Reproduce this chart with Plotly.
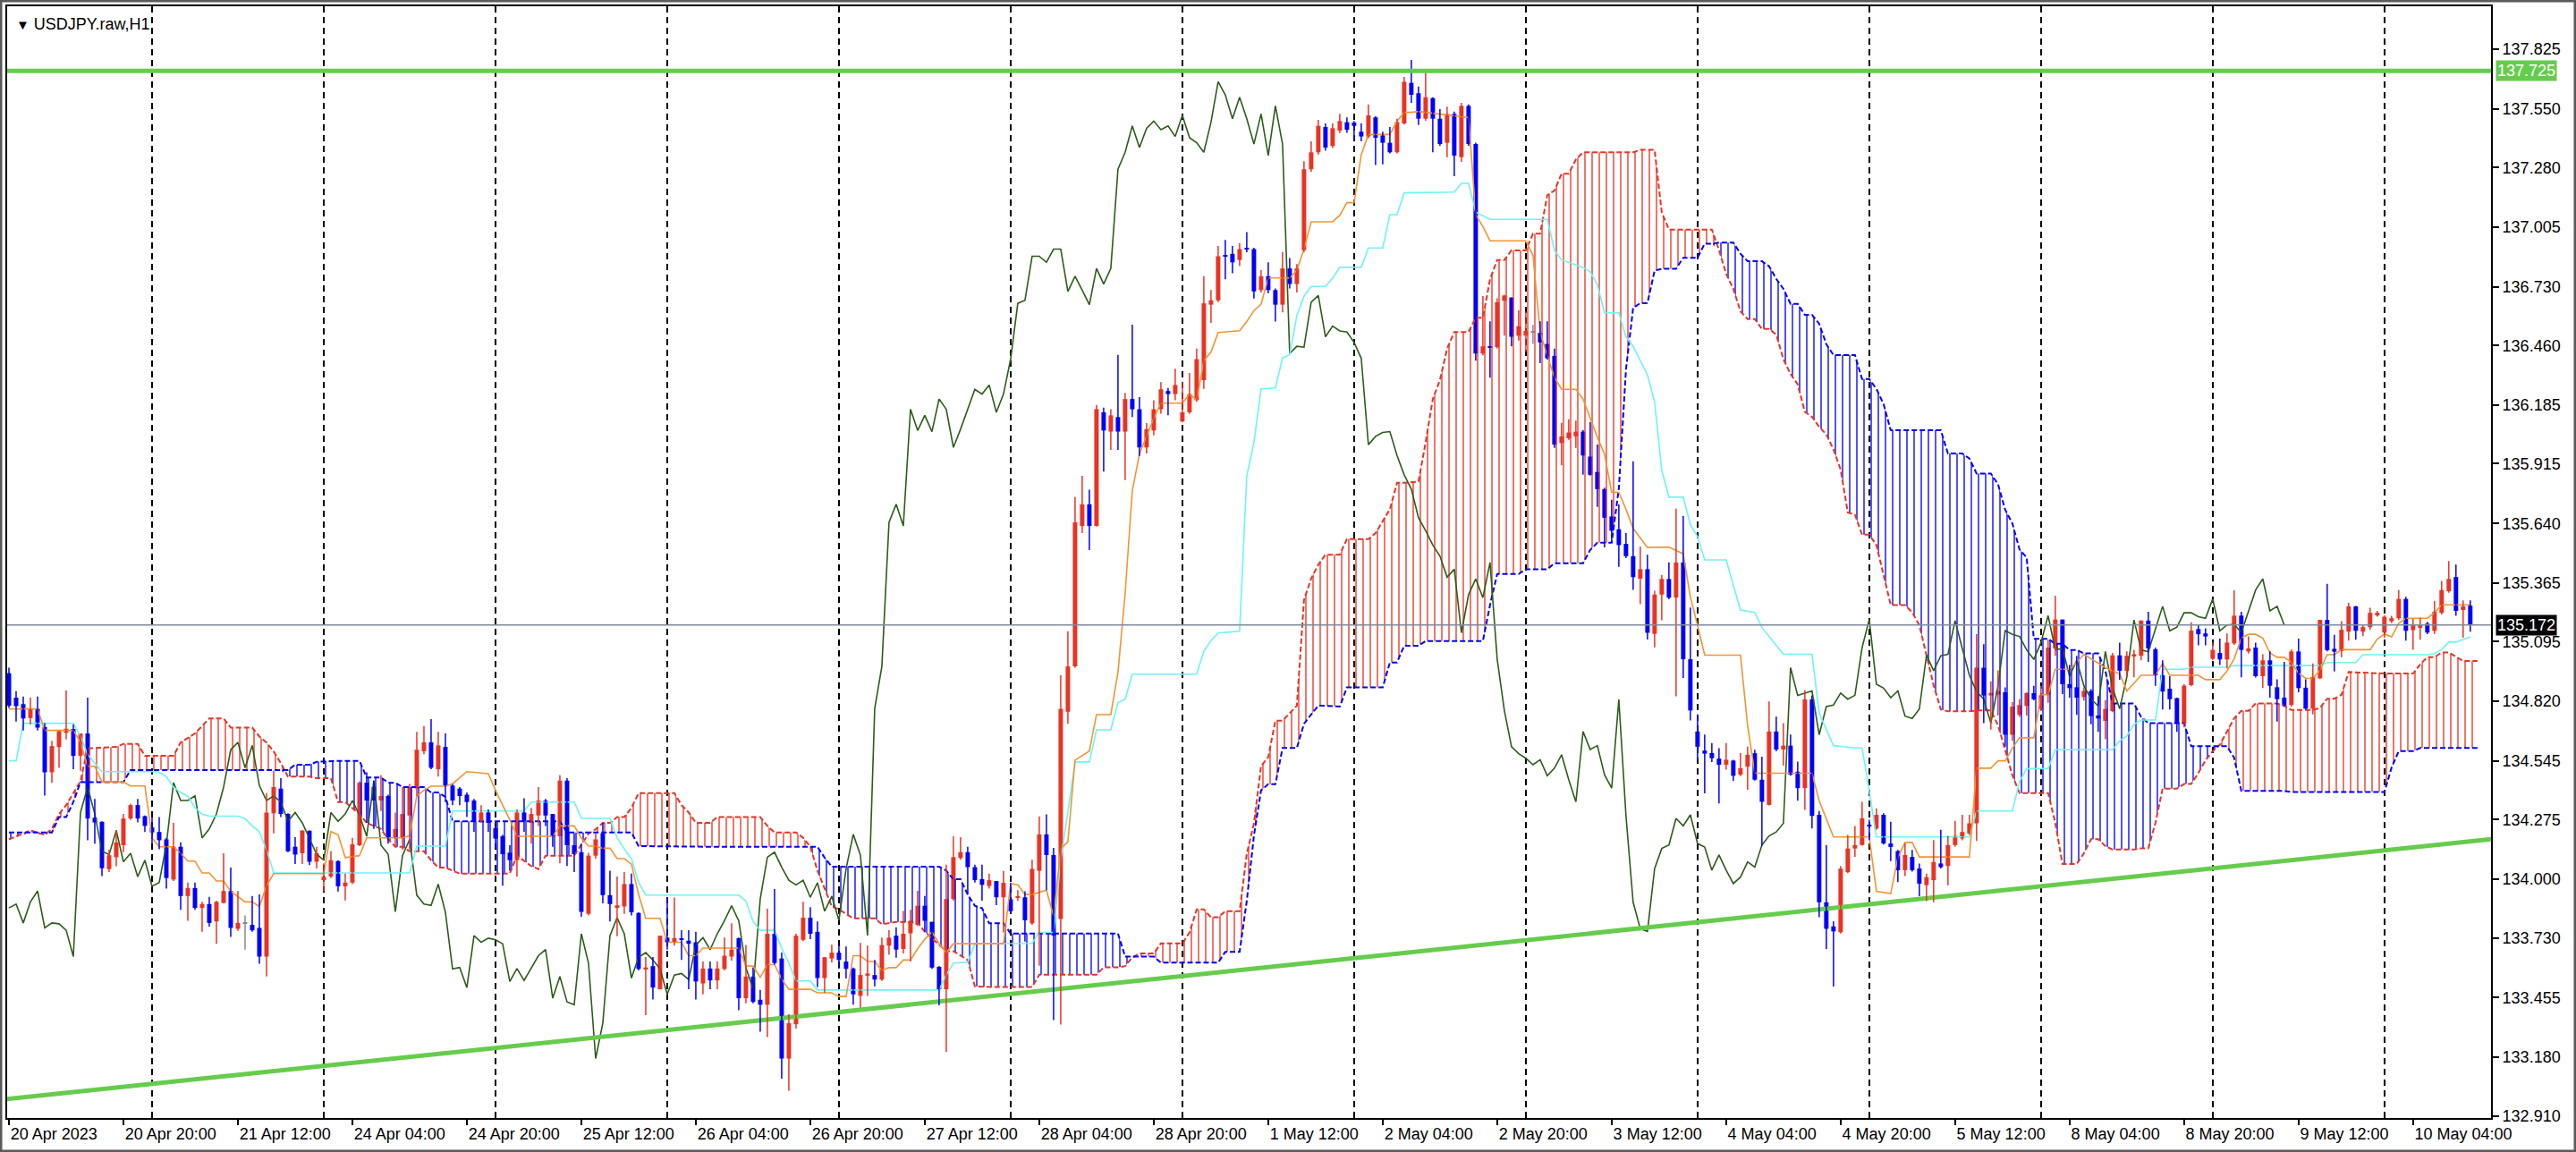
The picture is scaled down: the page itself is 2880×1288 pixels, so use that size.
import numpy as np
import plotly.graph_objects as go

# USDJPY.raw H1 candles, bar index 0 = 20 Apr 2023 04:00
opens = [
    134.950, 134.837, 134.807, 134.743, 134.785, 134.702, 134.493, 134.609, 134.675, 134.693,
    134.569, 134.672, 134.284, 134.265, 134.047, 134.102, 134.157, 134.280, 134.342, 134.291,
    134.239, 134.218, 134.184, 133.999, 134.150, 133.923, 133.960, 133.868, 133.886, 133.806,
    133.891, 133.946, 133.772, 133.795, 133.790, 133.776, 133.644, 134.304, 134.418, 134.301,
    134.150, 134.120, 134.224, 134.081, 133.996, 134.013, 134.084, 133.968, 133.985, 134.157,
    134.445, 134.425, 134.363, 134.384, 134.191, 134.191, 134.294, 134.418, 134.590, 134.631,
    134.507, 134.610, 134.432, 134.418, 134.390, 134.363, 134.271, 134.308, 134.235, 134.198,
    134.123, 134.088, 134.308, 134.260, 134.294, 134.363, 134.301, 134.198, 134.455, 134.157,
    134.125, 133.841, 134.109, 134.212, 133.927, 133.872, 133.875, 133.978, 133.845, 133.587,
    133.600, 133.493, 133.731, 133.710, 133.724, 133.717, 133.710, 133.520, 133.589, 133.534,
    133.587, 133.644, 133.729, 133.452, 133.552, 133.445, 133.422, 133.749, 133.635, 133.174,
    133.332, 133.721, 133.823, 133.758, 133.545, 133.635, 133.662, 133.621, 133.589, 133.463,
    133.556, 133.559, 133.538, 133.694, 133.740, 133.679, 133.751, 133.790, 133.878, 133.804,
    133.597, 133.493, 133.909, 134.098, 134.125, 134.056, 134.001, 133.969, 133.992, 133.917,
    133.908, 133.917, 133.917, 133.797, 134.039, 134.207, 134.112, 133.817, 134.772, 134.981,
    135.628, 135.728, 135.628, 136.152, 136.063, 136.130, 136.063, 136.213, 136.166, 135.990,
    136.068, 136.166, 136.250, 136.236, 136.110, 136.152, 136.208, 136.300, 136.648, 136.668,
    136.877, 136.882, 136.854, 136.910, 136.904, 136.715, 136.779, 136.715, 136.648, 136.815,
    136.743, 136.899, 137.272, 137.350, 137.467, 137.379, 137.450, 137.489, 137.487, 137.445,
    137.423, 137.511, 137.428, 137.394, 137.350, 137.483, 137.670, 137.622, 137.505, 137.600,
    137.505, 137.394, 137.527, 137.328, 137.564, 137.388, 136.423, 136.456, 136.452, 136.666,
    136.681, 136.505, 136.505, 136.522, 136.518, 136.467, 136.412, 136.010, 136.032, 136.041,
    136.063, 135.948, 135.877, 135.798, 135.672, 135.613, 135.546, 135.489, 135.385, 135.429,
    135.131, 135.312, 135.384, 135.298, 135.460, 135.014, 134.681, 134.593, 134.582, 134.556,
    134.528, 134.547, 134.482, 134.519, 134.581, 134.459, 134.343, 134.681, 134.598, 134.616,
    134.496, 134.420, 134.829, 134.297, 133.894, 133.783, 133.756, 134.033, 134.142, 134.158,
    134.251, 134.234, 134.297, 134.165, 134.130, 134.042, 134.103, 134.050, 133.973, 133.996,
    134.073, 134.061, 134.158, 134.188, 134.211, 134.258, 134.975, 134.847, 134.851, 134.862,
    134.666, 134.758, 134.799, 134.858, 134.785, 134.851, 135.064, 135.197, 134.899, 134.885,
    134.840, 134.868, 134.755, 134.730, 134.775, 135.032, 134.961, 135.030, 135.030, 135.192,
    135.060, 134.940, 134.878, 134.835, 134.716, 134.895, 135.153, 135.133, 135.016, 135.043,
    135.013, 135.087, 135.215, 135.050, 135.068, 134.936, 135.009, 134.885, 134.837, 134.803,
    135.050, 134.883, 134.786, 134.926, 135.195, 135.062, 135.052, 135.141, 135.258, 135.141,
    135.162, 135.216, 135.137, 135.189, 135.203, 135.292, 135.148, 135.159, 135.178, 135.145,
    135.228, 135.327, 135.393, 135.241, 135.261,
]
highs = [
    134.975, 134.867, 134.842, 134.837, 134.842, 134.720, 134.638, 134.686, 134.870, 134.713,
    134.672, 134.837, 134.370, 134.267, 134.136, 134.225, 134.301, 134.349, 134.370, 134.294,
    134.287, 134.287, 134.191, 134.260, 134.170, 133.985, 133.985, 133.896, 133.919, 133.902,
    134.120, 134.054, 133.946, 133.834, 133.923, 133.930, 134.397, 134.500, 134.466, 134.304,
    134.194, 134.225, 134.225, 134.150, 134.074, 134.129, 134.088, 134.026, 134.191, 134.452,
    134.493, 134.452, 134.480, 134.390, 134.308, 134.425, 134.439, 134.679, 134.706, 134.738,
    134.679, 134.672, 134.439, 134.425, 134.400, 134.370, 134.342, 134.322, 134.246, 134.205,
    134.157, 134.322, 134.373, 134.329, 134.425, 134.370, 134.301, 134.480, 134.466, 134.212,
    134.164, 134.122, 134.212, 134.260, 134.040, 134.013, 134.033, 134.026, 133.848, 133.642,
    133.642, 133.740, 133.916, 133.916, 133.765, 133.765, 133.758, 133.621, 133.621, 133.621,
    133.731, 133.797, 133.731, 133.697, 133.593, 133.490, 133.864, 133.955, 133.662, 133.378,
    133.749, 133.896, 133.872, 133.806, 133.641, 133.699, 133.697, 133.690, 133.593, 133.707,
    133.694, 133.628, 133.731, 133.765, 133.779, 133.854, 133.859, 133.947, 133.923, 133.804,
    133.600, 134.067, 134.198, 134.194, 134.150, 134.067, 134.067, 134.026, 133.992, 134.039,
    133.984, 133.950, 133.945, 134.090, 134.290, 134.299, 134.145, 134.940, 135.143, 135.762,
    135.859, 135.795, 136.186, 136.174, 136.166, 136.417, 136.241, 136.556, 136.222, 136.102,
    136.208, 136.291, 136.264, 136.353, 136.291, 136.333, 136.445, 136.779, 136.715, 136.918,
    136.946, 136.918, 136.932, 136.982, 136.910, 136.807, 136.843, 136.723, 136.891, 136.863,
    136.835, 137.309, 137.401, 137.500, 137.483, 137.483, 137.527, 137.511, 137.494, 137.483,
    137.571, 137.516, 137.445, 137.467, 137.505, 137.697, 137.776, 137.653, 137.726, 137.604,
    137.549, 137.560, 137.538, 137.578, 137.571, 137.394, 136.688, 136.571, 136.677, 136.694,
    136.681, 136.622, 136.615, 136.555, 136.571, 136.571, 136.445, 136.103, 136.120, 136.114,
    136.070, 136.107, 136.003, 135.805, 135.749, 135.727, 135.595, 135.926, 135.533, 135.496,
    135.330, 135.403, 135.460, 135.708, 135.675, 135.252, 134.760, 134.667, 134.628, 134.604,
    134.628, 134.551, 134.582, 134.611, 134.597, 134.565, 134.820, 134.750, 134.720, 134.667,
    134.542, 134.871, 134.847, 134.315, 134.158, 133.807, 134.061, 134.204, 134.246, 134.357,
    134.274, 134.327, 134.304, 134.265, 134.135, 134.165, 134.135, 134.073, 134.026, 134.181,
    134.228, 134.200, 134.269, 134.297, 134.297, 135.130, 135.083, 134.912, 134.963, 134.885,
    134.817, 134.830, 134.862, 134.892, 134.892, 135.105, 135.307, 135.197, 134.988, 135.030,
    134.885, 134.876, 134.844, 134.826, 135.043, 135.091, 135.050, 135.057, 135.194, 135.233,
    135.068, 135.009, 134.936, 134.837, 134.899, 135.184, 135.174, 135.156, 135.091, 135.109,
    135.133, 135.332, 135.233, 135.119, 135.091, 135.037, 135.050, 134.922, 135.002, 135.060,
    135.109, 134.922, 134.995, 135.197, 135.362, 135.127, 135.189, 135.274, 135.260, 135.172,
    135.251, 135.237, 135.216, 135.214, 135.333, 135.302, 135.200, 135.205, 135.186, 135.283,
    135.375, 135.467, 135.450, 135.285, 135.285,
]
lows = [
    134.790, 134.727, 134.686, 134.713, 134.686, 134.386, 134.445, 134.514, 134.644, 134.507,
    134.500, 134.180, 134.164, 134.015, 134.033, 134.060, 134.125, 134.273, 134.262, 134.218,
    134.164, 134.139, 133.957, 133.992, 133.859, 133.809, 133.859, 133.758, 133.782, 133.703,
    133.889, 133.735, 133.762, 133.676, 133.758, 133.611, 133.552, 134.212, 134.287, 134.125,
    134.070, 134.070, 134.065, 134.050, 133.944, 134.006, 133.944, 133.903, 133.978, 134.153,
    134.260, 134.232, 134.315, 134.164, 134.150, 134.136, 134.136, 134.384, 134.576, 134.507,
    134.473, 134.356, 134.342, 134.342, 134.287, 134.219, 134.260, 134.219, 134.143, 133.971,
    134.040, 134.013, 134.219, 134.164, 134.246, 134.246, 134.150, 134.074, 134.061, 134.033,
    133.827, 133.834, 134.095, 133.889, 133.806, 133.738, 133.841, 133.834, 133.580, 133.374,
    133.446, 133.493, 133.676, 133.694, 133.628, 133.493, 133.446, 133.470, 133.493, 133.493,
    133.580, 133.625, 133.397, 133.429, 133.429, 133.298, 133.273, 133.607, 133.081, 133.026,
    133.312, 133.715, 133.724, 133.504, 133.477, 133.617, 133.587, 133.543, 133.422, 133.408,
    133.463, 133.507, 133.532, 133.652, 133.639, 133.658, 133.621, 133.786, 133.758, 133.587,
    133.419, 133.205, 133.902, 134.090, 133.930, 133.985, 133.902, 133.957, 133.881, 133.755,
    133.845, 133.900, 133.713, 133.790, 133.602, 133.950, 133.351, 133.331, 134.717, 134.975,
    135.595, 135.517, 135.625, 135.879, 135.979, 135.979, 135.840, 136.130, 135.951, 135.962,
    136.046, 136.146, 136.138, 136.208, 136.105, 136.145, 136.200, 136.260, 136.564, 136.660,
    136.765, 136.793, 136.826, 136.890, 136.676, 136.704, 136.700, 136.570, 136.612, 136.723,
    136.704, 136.890, 137.260, 137.340, 137.357, 137.370, 137.439, 137.440, 137.405, 137.401,
    137.415, 137.291, 137.295, 137.345, 137.345, 137.478, 137.578, 137.476, 137.495, 137.350,
    137.380, 137.328, 137.240, 137.306, 137.380, 136.390, 136.415, 136.312, 136.445, 136.505,
    136.456, 136.483, 136.430, 136.467, 136.379, 136.395, 135.988, 135.908, 136.025, 135.988,
    135.864, 135.860, 135.716, 135.529, 135.551, 135.440, 135.480, 135.334, 135.268, 135.105,
    135.069, 135.194, 135.290, 134.843, 134.928, 134.732, 134.551, 134.396, 134.540, 134.350,
    134.505, 134.454, 134.475, 134.413, 134.455, 134.154, 134.340, 134.590, 134.524, 134.478,
    134.362, 134.320, 134.234, 133.825, 133.679, 133.506, 133.750, 134.028, 134.103, 134.155,
    134.181, 134.228, 134.160, 134.084, 133.987, 134.015, 134.035, 133.922, 133.899, 133.894,
    134.050, 133.973, 134.150, 134.180, 134.205, 134.177, 134.720, 134.690, 134.755, 134.611,
    134.638, 134.748, 134.755, 134.825, 134.775, 134.813, 135.030, 134.854, 134.837, 134.758,
    134.824, 134.714, 134.679, 134.645, 134.770, 134.920, 134.931, 134.931, 135.009, 135.002,
    134.892, 134.782, 134.782, 134.679, 134.700, 134.890, 135.078, 135.078, 135.010, 134.988,
    134.972, 135.080, 134.931, 135.040, 134.930, 134.881, 134.837, 134.727, 134.795, 134.795,
    134.862, 134.783, 134.760, 134.923, 135.050, 134.958, 135.024, 135.100, 135.104, 135.120,
    135.150, 135.210, 135.113, 135.180, 135.195, 135.100, 135.058, 135.104, 135.130, 135.131,
    135.220, 135.320, 135.214, 135.113, 135.141,
]
closes = [
    134.800, 134.798, 134.741, 134.785, 134.699, 134.493, 134.614, 134.683, 134.694, 134.569,
    134.672, 134.280, 134.262, 134.051, 134.111, 134.170, 134.280, 134.342, 134.280, 134.246,
    134.216, 134.180, 134.006, 134.150, 133.923, 133.960, 133.868, 133.886, 133.799, 133.896,
    133.946, 133.776, 133.799, 133.795, 133.765, 133.644, 134.308, 134.425, 134.301, 134.129,
    134.114, 134.225, 134.081, 134.120, 134.012, 134.088, 133.968, 133.985, 134.161, 134.445,
    134.363, 134.363, 134.384, 134.191, 134.232, 134.301, 134.425, 134.597, 134.631, 134.514,
    134.617, 134.432, 134.363, 134.384, 134.356, 134.267, 134.308, 134.260, 134.188, 134.116,
    134.088, 134.308, 134.267, 134.301, 134.363, 134.294, 134.198, 134.455, 134.157, 134.116,
    133.850, 134.109, 134.184, 133.927, 133.886, 133.880, 133.978, 133.848, 133.587, 133.594,
    133.501, 133.740, 133.710, 133.729, 133.721, 133.703, 133.529, 133.589, 133.534, 133.589,
    133.648, 133.676, 133.452, 133.552, 133.435, 133.422, 133.749, 133.614, 133.174, 133.337,
    133.740, 133.823, 133.749, 133.545, 133.641, 133.662, 133.628, 133.587, 133.470, 133.559,
    133.566, 133.538, 133.697, 133.731, 133.676, 133.749, 133.809, 133.878, 133.809, 133.593,
    133.493, 133.909, 134.102, 134.125, 134.056, 133.996, 133.974, 133.996, 133.917, 133.984,
    133.853, 133.922, 133.811, 134.048, 134.207, 134.112, 133.741, 134.786, 134.981, 135.645,
    135.728, 135.628, 136.166, 136.068, 136.138, 136.063, 136.213, 136.166, 135.990, 136.074,
    136.166, 136.258, 136.236, 136.278, 136.152, 136.236, 136.397, 136.654, 136.668, 136.871,
    136.871, 136.843, 136.904, 136.904, 136.709, 136.779, 136.715, 136.648, 136.815, 136.743,
    136.815, 137.272, 137.350, 137.472, 137.372, 137.461, 137.494, 137.454, 137.472, 137.423,
    137.520, 137.417, 137.394, 137.350, 137.489, 137.675, 137.615, 137.505, 137.604, 137.505,
    137.388, 137.527, 137.335, 137.564, 137.388, 136.423, 136.456, 136.452, 136.659, 136.690,
    136.500, 136.549, 136.527, 136.522, 136.474, 136.401, 136.003, 136.041, 136.059, 136.063,
    135.953, 135.864, 135.798, 135.666, 135.606, 135.540, 135.489, 135.392, 135.429, 135.136,
    135.312, 135.384, 135.298, 135.460, 135.014, 134.778, 134.611, 134.579, 134.558, 134.528,
    134.551, 134.477, 134.512, 134.574, 134.459, 134.357, 134.681, 134.598, 134.616, 134.482,
    134.420, 134.829, 134.292, 133.894, 133.772, 133.760, 134.049, 134.142, 134.158, 134.281,
    134.246, 134.297, 134.165, 134.149, 134.042, 134.112, 134.042, 133.980, 134.010, 134.080,
    134.056, 134.158, 134.200, 134.218, 134.258, 134.975, 134.847, 134.859, 134.868, 134.666,
    134.796, 134.803, 134.858, 134.830, 134.848, 135.068, 135.197, 134.899, 134.881, 134.837,
    134.868, 134.752, 134.741, 134.785, 135.032, 134.961, 135.030, 135.037, 135.192, 135.064,
    134.940, 134.865, 134.830, 134.720, 134.892, 135.146, 135.129, 135.119, 135.057, 135.013,
    135.091, 135.215, 135.057, 135.064, 134.936, 135.009, 134.892, 134.830, 134.799, 135.050,
    134.881, 134.786, 134.932, 135.195, 135.056, 135.049, 135.150, 135.258, 135.145, 135.162,
    135.228, 135.228, 135.210, 135.203, 135.292, 135.145, 135.172, 135.175, 135.137, 135.233,
    135.333, 135.384, 135.237, 135.258, 135.172,
]

# Tenkan-sen (orange) read as (bar, value) vertices
tenkan_bars = [
    0, 4, 5, 9, 10, 11, 12, 13, 16, 17, 19, 20, 21, 23, 24, 25, 26, 27, 28, 29,
    30, 31, 32, 33, 34, 35, 36, 37, 44, 45, 46, 47, 49, 50, 55, 56, 57, 58, 59, 61,
    62, 64, 67, 68, 69, 70, 71, 76, 77, 79, 80, 81, 82, 83, 84, 85, 86, 87, 88, 89,
    91, 92, 94, 95, 96, 97, 102, 103, 104, 105, 106, 107, 108, 109, 112, 113, 115, 116, 117, 118,
    119, 120, 121, 122, 123, 124, 125, 126, 127, 128, 129, 130, 131, 132, 139, 140, 141, 142, 143, 145,
    146, 147, 148, 149, 151, 152, 154, 155, 156, 157, 158, 159, 160, 161, 164, 165, 166, 167, 168, 169,
    172, 173, 174, 175, 176, 179, 180, 181, 182, 185, 186, 187, 188, 189, 190, 193, 194, 195, 196, 197,
    204, 205, 206, 207, 212, 213, 214, 215, 216, 217, 219, 220, 221, 222, 223, 224, 225, 226, 227, 229,
    230, 232, 234, 235, 236, 237, 242, 243, 244, 252, 253, 255, 260, 261, 263, 264, 265, 266, 267, 274,
    275, 277, 278, 279, 280, 281, 283, 284, 285, 286, 288, 289, 290, 291, 293, 294, 295, 296, 297, 298,
    300, 301, 302, 306, 307, 309, 310, 311, 312, 313, 314, 315, 316, 317, 318, 319, 320, 321, 322, 323,
    324, 325, 326, 330, 331, 332, 333, 334, 335, 338, 339, 340, 344,
]
tenkan_vals = [
    134.785, 134.785, 134.686, 134.686, 134.631, 134.521, 134.521, 134.448, 134.448, 134.430,
    134.430, 134.191, 134.150, 134.150, 134.120, 134.084, 134.084, 134.029, 134.029, 133.992,
    133.992, 133.944, 133.920, 133.896, 133.896, 133.875, 133.970, 134.026, 134.026, 134.220,
    134.205, 134.100, 134.109, 134.191, 134.191, 134.200, 134.384, 134.410, 134.429, 134.429,
    134.440, 134.496, 134.487, 134.410, 134.342, 134.274, 134.198, 134.198, 134.246, 134.246,
    134.190, 134.153, 134.153, 134.143, 134.143, 134.095, 134.095, 134.070, 133.930, 133.820,
    133.820, 133.710, 133.710, 133.648, 133.648, 133.683, 133.683, 133.600, 133.600, 133.548,
    133.607, 133.607, 133.540, 133.493, 133.493, 133.477, 133.477, 133.460, 133.460, 133.648,
    133.648, 133.621, 133.621, 133.580, 133.593, 133.593, 133.628, 133.628, 133.680, 133.724,
    133.758, 133.703, 133.662, 133.703, 133.703, 133.980, 133.975, 133.930, 133.930, 133.950,
    133.830, 134.140, 134.173, 134.549, 134.591, 134.759, 134.759, 134.954, 135.316, 135.790,
    135.960, 136.040, 136.124, 136.194, 136.194, 136.236, 136.208, 136.389, 136.430, 136.520,
    136.528, 136.570, 136.620, 136.650, 136.771, 136.771, 136.807, 136.904, 137.030, 137.030,
    137.060, 137.118, 137.118, 137.339, 137.432, 137.432, 137.494, 137.534, 137.534, 137.538,
    137.510, 137.063, 137.008, 136.942, 136.942, 136.876, 136.522, 136.412, 136.313, 136.258,
    136.258, 136.213, 136.125, 136.037, 135.959, 135.783, 135.783, 135.705, 135.617, 135.529,
    135.530, 135.530, 135.500, 135.300, 135.171, 135.033, 135.033, 134.709, 134.489, 134.489,
    134.362, 134.195, 134.195, 133.945, 133.934, 134.100, 134.170, 134.170, 134.103, 134.103,
    134.512, 134.512, 134.546, 134.546, 134.604, 134.652, 134.652, 134.851, 134.851, 134.968,
    134.968, 135.000, 135.037, 135.016, 134.975, 134.961, 134.947, 134.868, 134.906, 134.940,
    134.940, 134.995, 134.940, 134.940, 134.920, 134.920, 134.960, 135.016, 135.112, 135.129,
    135.129, 135.112, 135.043, 135.023, 135.023, 135.000, 134.950, 134.926, 134.926, 134.964,
    135.035, 135.035, 135.058, 135.058, 135.107, 135.130, 135.117, 135.180, 135.203, 135.203,
    135.228, 135.265, 135.265,
]

# Kijun-sen (aqua)
kijun_bars = [
    0, 1, 2, 9, 10, 11, 12, 13, 20, 21, 22, 23, 24, 25, 26, 27, 28, 32, 33, 34,
    35, 36, 37, 56, 57, 61, 62, 72, 73, 79, 80, 84, 85, 86, 87, 88, 89, 102, 103, 104,
    105, 107, 108, 109, 110, 112, 113, 130, 131, 132, 134, 135, 143, 144, 146, 147, 148, 149, 151, 152,
    154, 155, 156, 157, 166, 167, 168, 169, 172, 173, 174, 175, 177, 178, 179, 180, 181, 182, 184, 185,
    186, 189, 190, 192, 193, 194, 195, 202, 203, 204, 205, 207, 215, 216, 217, 220, 221, 222, 223, 225,
    226, 227, 229, 230, 231, 232, 234, 235, 236, 237, 240, 242, 244, 245, 248, 252, 253, 255, 258, 259,
    260, 261, 274, 275, 280, 281, 282, 285, 286, 294, 295, 296, 297, 298, 300, 301, 304, 305, 310, 311,
    323, 324, 328, 329, 338, 339, 340, 341, 342, 344,
]
kijun_vals = [
    134.546, 134.546, 134.719, 134.719, 134.660, 134.575, 134.535, 134.496, 134.496, 134.493,
    134.473, 134.425, 134.400, 134.383, 134.330, 134.300, 134.291, 134.291, 134.280, 134.246,
    134.219, 134.136, 134.029, 134.029, 134.153, 134.153, 134.315, 134.315, 134.356, 134.356,
    134.281, 134.281, 134.191, 134.140, 134.095, 133.985, 133.927, 133.927, 133.900, 133.806,
    133.765, 133.765, 133.683, 133.614, 133.532, 133.532, 133.490, 133.490, 133.560, 133.614,
    133.617, 133.703, 133.705, 133.755, 133.755, 134.090, 134.312, 134.541, 134.541, 134.689,
    134.689, 134.814, 134.830, 134.945, 134.945, 135.051, 135.100, 135.135, 135.143, 135.859,
    136.013, 136.260, 136.264, 136.403, 136.417, 136.598, 136.687, 136.732, 136.732, 136.770,
    136.820, 136.820, 136.909, 136.909, 137.063, 137.063, 137.163, 137.167, 137.207, 137.207,
    137.074, 137.041, 137.041, 136.898, 136.854, 136.820, 136.800, 136.740, 136.611, 136.611,
    136.500, 136.456, 136.324, 136.200, 135.885, 135.761, 135.761, 135.634, 135.580, 135.472,
    135.472, 135.241, 135.230, 135.160, 135.037, 135.037, 134.766, 134.616, 134.605, 134.605,
    134.408, 134.195, 134.195, 134.315, 134.315, 134.450, 134.510, 134.510, 134.597, 134.597,
    134.638, 134.660, 134.714, 134.734, 134.734, 134.968, 134.968, 134.977, 134.977, 134.985,
    134.985, 134.999, 134.999, 135.035, 135.035, 135.040, 135.058, 135.093, 135.093, 135.117,
]

# Senkou span A / B (cloud), read at the same bars
cloud_bars = [
    0, 3, 5, 6, 7, 8, 9, 10, 11, 15,
    16, 17, 18, 19, 23, 24, 26, 28, 30, 31,
    34, 35, 36, 37, 38, 39, 40, 42, 43, 45,
    46, 47, 49, 50, 52, 53, 54, 55, 56, 58,
    59, 60, 61, 62, 63, 70, 71, 73, 74, 75,
    77, 78, 79, 80, 81, 82, 83, 84, 85, 86,
    87, 88, 93, 94, 95, 96, 98, 99, 105, 106,
    107, 110, 111, 112, 113, 114, 115, 116, 118, 121,
    122, 124, 127, 128, 130, 131, 132, 133, 134, 135,
    136, 137, 139, 140, 143, 144, 152, 153, 155, 156,
    157, 158, 160, 161, 164, 165, 166, 167, 168, 169,
    170, 172, 173, 174, 175, 176, 177, 178, 180, 181,
    182, 183, 184, 186, 187, 190, 191, 192, 193, 194,
    195, 197, 198, 199, 200, 201, 202, 204, 205, 206,
    207, 208, 209, 210, 211, 212, 213, 214, 215, 216,
    217, 218, 219, 220, 221, 222, 224, 225, 226, 227,
    228, 229, 230, 231, 232, 233, 234, 236, 237, 238,
    239, 240, 241, 242, 243, 244, 245, 246, 247, 248,
    249, 250, 251, 252, 253, 254, 255, 256, 257, 258,
    259, 260, 261, 262, 263, 265, 266, 267, 268, 269,
    270, 271, 273, 274, 275, 277, 278, 279, 280, 281,
    282, 283, 285, 286, 287, 288, 289, 290, 291, 292,
    293, 294, 297, 298, 299, 300, 301, 303, 304, 305,
    306, 307, 308, 309, 310, 311, 312, 313, 314, 317,
    318, 319, 322, 323, 324, 325, 326, 327, 332, 333,
    334, 336, 337, 338, 339, 340, 341, 342, 343, 345,
]
span_a = [
    134.184, 134.225, 134.205, 134.232, 134.301, 134.342, 134.397, 134.452, 134.603, 134.610,
    134.624, 134.624, 134.624, 134.569, 134.569, 134.631, 134.672, 134.741, 134.741, 134.699,
    134.699, 134.658, 134.630, 134.589, 134.535, 134.473, 134.473, 134.473, 134.466, 134.466,
    134.356, 134.356, 134.300, 134.260, 134.232, 134.184, 134.150, 134.150, 134.129, 134.129,
    134.088, 134.054, 134.054, 134.040, 134.026, 134.026, 134.109, 134.061, 134.047, 134.109,
    134.109, 134.109, 134.109, 134.160, 134.210, 134.230, 134.260, 134.260, 134.287, 134.287,
    134.329, 134.397, 134.397, 134.342, 134.308, 134.260, 134.260, 134.287, 134.287, 134.246,
    134.216, 134.216, 134.191, 134.150, 134.040, 133.958, 133.875, 133.861, 133.820, 133.820,
    133.793, 133.804, 133.800, 133.758, 133.700, 133.669, 133.669, 133.650, 133.628, 133.507,
    133.504, 133.504, 133.504, 133.504, 133.504, 133.560, 133.560, 133.594, 133.594, 133.600,
    133.640, 133.658, 133.658, 133.705, 133.705, 133.755, 133.861, 133.861, 133.825, 133.825,
    133.853, 133.853, 134.117, 134.257, 134.522, 134.563, 134.731, 134.731, 134.800, 135.288,
    135.386, 135.450, 135.496, 135.496, 135.568, 135.568, 135.595, 135.650, 135.705, 135.827,
    135.827, 135.833, 136.014, 136.213, 136.301, 136.445, 136.522, 136.522, 136.588, 136.588,
    136.765, 136.854, 136.854, 136.898, 136.898, 136.898, 136.975, 136.975, 137.152, 137.174,
    137.251, 137.251, 137.317, 137.350, 137.350, 137.350, 137.350, 137.350, 137.350, 137.350,
    137.361, 137.361, 137.361, 137.074, 136.994, 136.994, 136.994, 136.994, 136.994, 136.994,
    136.900, 136.790, 136.721, 136.617, 136.582, 136.582, 136.536, 136.536, 136.510, 136.397,
    136.328, 136.281, 136.154, 136.131, 136.085, 136.050, 135.981, 135.888, 135.690, 135.680,
    135.588, 135.588, 135.540, 135.400, 135.264, 135.264, 135.230, 135.171, 135.030, 134.894,
    134.783, 134.774, 134.774, 134.774, 134.778, 134.778, 134.710, 134.600, 134.480, 134.397,
    134.397, 134.397, 134.397, 134.260, 134.071, 134.071, 134.071, 134.120, 134.185, 134.185,
    134.153, 134.137, 134.137, 134.143, 134.143, 134.260, 134.418, 134.418, 134.439, 134.439,
    134.490, 134.549, 134.590, 134.620, 134.679, 134.742, 134.776, 134.776, 134.810, 134.810,
    134.800, 134.780, 134.780, 134.790, 134.832, 134.832, 134.850, 134.955, 134.948, 134.948,
    134.948, 134.948, 134.990, 135.024, 135.024, 135.045, 135.045, 135.024, 135.006, 135.006,
]
span_b = [
    134.216, 134.216, 134.216, 134.216, 134.287, 134.287, 134.356, 134.448, 134.448, 134.448,
    134.448, 134.503, 134.503, 134.503, 134.503, 134.503, 134.503, 134.503, 134.503, 134.503,
    134.503, 134.503, 134.503, 134.503, 134.503, 134.503, 134.528, 134.528, 134.541, 134.546,
    134.546, 134.546, 134.546, 134.469, 134.469, 134.445, 134.445, 134.425, 134.425, 134.425,
    134.400, 134.400, 134.380, 134.267, 134.267, 134.267, 134.267, 134.267, 134.267, 134.267,
    134.267, 134.216, 134.216, 134.216, 134.216, 134.216, 134.216, 134.216, 134.216, 134.216,
    134.216, 134.153, 134.150, 134.150, 134.150, 134.150, 134.150, 134.150, 134.150, 134.150,
    134.150, 134.150, 134.150, 134.150, 134.150, 134.100, 134.058, 134.058, 134.058, 134.058,
    134.058, 134.058, 134.058, 134.058, 134.058, 134.040, 134.000, 134.000, 133.930, 133.878,
    133.867, 133.797, 133.797, 133.750, 133.750, 133.750, 133.750, 133.750, 133.750, 133.644,
    133.644, 133.644, 133.644, 133.616, 133.616, 133.616, 133.616, 133.616, 133.616, 133.616,
    133.666, 133.666, 133.900, 134.201, 134.410, 134.438, 134.438, 134.605, 134.605, 134.717,
    134.759, 134.800, 134.800, 134.796, 134.884, 134.884, 134.884, 134.884, 134.999, 134.999,
    135.076, 135.076, 135.098, 135.098, 135.098, 135.098, 135.098, 135.098, 135.098, 135.098,
    135.264, 135.407, 135.407, 135.407, 135.407, 135.429, 135.429, 135.429, 135.429, 135.456,
    135.456, 135.456, 135.456, 135.456, 135.518, 135.551, 135.551, 135.800, 136.350, 136.633,
    136.655, 136.655, 136.805, 136.813, 136.813, 136.813, 136.864, 136.864, 136.929, 136.929,
    136.934, 136.934, 136.934, 136.883, 136.848, 136.848, 136.848, 136.825, 136.767, 136.721,
    136.652, 136.652, 136.601, 136.601, 136.560, 136.466, 136.416, 136.416, 136.416, 136.416,
    136.305, 136.305, 136.260, 136.190, 136.069, 136.069, 136.069, 136.069, 136.069, 136.069,
    136.069, 135.962, 135.962, 135.939, 135.870, 135.870, 135.820, 135.703, 135.640, 135.520,
    135.483, 135.108, 135.108, 135.085, 135.085, 135.057, 135.057, 135.041, 135.041, 135.041,
    134.961, 134.810, 134.810, 134.748, 134.720, 134.720, 134.720, 134.720, 134.720, 134.613,
    134.613, 134.613, 134.613, 134.613, 134.613, 134.560, 134.407, 134.407, 134.407, 134.407,
    134.407, 134.402, 134.402, 134.402, 134.402, 134.402, 134.402, 134.402, 134.402, 134.515,
    134.591, 134.591, 134.605, 134.605, 134.605, 134.605, 134.605, 134.605, 134.605, 134.605,
]

chikou_shift = 26

# hand-drawn objects
support_bars = [-1, 347]
support_vals = [132.985, 134.185]
resistance_level = 137.725
last_price = closes[-1]

# axis labels
time_label_bars = [0, 16, 32, 48, 64, 80, 96, 112, 128, 144, 160,
                   176, 192, 208, 224, 240, 256, 272, 288, 304, 320, 336]
time_labels = ["20 Apr 2023", "20 Apr 20:00", "21 Apr 12:00", "24 Apr 04:00",
               "24 Apr 20:00", "25 Apr 12:00", "26 Apr 04:00", "26 Apr 20:00",
               "27 Apr 12:00", "28 Apr 04:00", "28 Apr 20:00", "1 May 12:00",
               "2 May 04:00", "2 May 20:00", "3 May 12:00", "4 May 04:00",
               "4 May 20:00", "5 May 12:00", "8 May 04:00", "8 May 20:00",
               "9 May 12:00", "10 May 04:00"]
day_grid_bars = [20, 44, 68, 92, 116, 140, 164, 188, 212, 236, 260, 284, 308, 332]
price_ticks = [137.825, 137.550, 137.280, 137.005, 136.730, 136.460, 136.185,
               135.915, 135.640, 135.365, 135.095, 134.820, 134.545, 134.275,
               134.000, 133.730, 133.455, 133.180, 132.910]

RED = "#EA3323"
BLUE = "#0000FF"
GRAY = "#7F8A99"
ORANGE = "#F39531"
AQUA = "#6CF5F5"
DKGREEN = "#2B5E19"
LGREEN = "#66CC4D"
FONT = "Liberation Sans, Arial, DejaVu Sans, sans-serif"

o = np.array(opens)
h = np.array(highs)
l = np.array(lows)
c = np.array(closes)
bars = np.arange(len(o))
up = c > o + 1e-9
down = c < o - 1e-9
flat = ~(up | down)

fig = go.Figure()

# cloud hatch: red where A above B, blue where B above A
a = np.array(span_a)
b = np.array(span_b)
lower = np.minimum(a, b)
for upper, col in ((a, RED), (b, BLUE)):
    fig.add_trace(go.Scatter(x=cloud_bars, y=lower, mode="lines",
                             line=dict(width=0), hoverinfo="skip"))
    fig.add_trace(go.Scatter(
        x=cloud_bars, y=upper, mode="lines", line=dict(width=0),
        fill="tonexty", fillcolor="rgba(0,0,0,0)", hoverinfo="skip",
        fillpattern=dict(shape="|", fgcolor=col, bgcolor="rgba(0,0,0,0)",
                         size=8, solidity=0.24, fgopacity=0.7)))

fig.add_trace(go.Scatter(x=cloud_bars, y=span_a, mode="lines",
                         line=dict(color=RED, width=2, dash="6px,3px")))
fig.add_trace(go.Scatter(x=cloud_bars, y=span_b, mode="lines",
                         line=dict(color=BLUE, width=2, dash="6px,3px")))

# chikou, kijun, tenkan
fig.add_trace(go.Scatter(x=bars[chikou_shift:] - chikou_shift, y=c[chikou_shift:],
                         mode="lines", line=dict(color=DKGREEN, width=1.6)))
fig.add_trace(go.Scatter(x=kijun_bars, y=kijun_vals, mode="lines",
                         line=dict(color=AQUA, width=1.6)))
fig.add_trace(go.Scatter(x=tenkan_bars, y=tenkan_vals, mode="lines",
                         line=dict(color=ORANGE, width=1.6)))

# bid line and trend lines
fig.add_hline(y=last_price, line=dict(color=GRAY, width=1.5))
fig.add_hline(y=resistance_level, line=dict(color=LGREEN, width=5))
fig.add_trace(go.Scatter(x=support_bars, y=support_vals, mode="lines",
                         line=dict(color=LGREEN, width=5)))

# candles: wicks
for mask, col in ((up, RED), (down, BLUE), (flat, GRAY)):
    xs, ys = [], []
    for i in bars[mask]:
        xs += [i, i, None]
        ys += [l[i], h[i], None]
    fig.add_trace(go.Scatter(x=xs, y=ys, mode="lines",
                             line=dict(color=col, width=1.5), hoverinfo="skip"))

# candles: bodies
body_lo = np.minimum(o, c)
body_h = np.maximum(np.abs(c - o), 0.004)
body_col = np.where(up, RED, np.where(down, BLUE, GRAY))
fig.add_trace(go.Bar(x=bars, y=body_h, base=body_lo, width=0.62,
                     marker=dict(color=list(body_col), line=dict(width=0))))

fig.update_layout(
    width=2880, height=1288,
    margin=dict(l=8, r=95, t=7, b=38, pad=0, autoexpand=False),
    paper_bgcolor="white", plot_bgcolor="white",
    showlegend=False, hovermode=False, barmode="overlay",
    font=dict(family=FONT, size=18, color="black"),
)
fig.update_xaxes(
    range=[-0.25, 346.9], tickvals=time_label_bars, ticktext=time_labels,
    ticks="outside", ticklen=6, tickwidth=1.5, tickcolor="black",
    ticklabelposition="outside right", showgrid=False, zeroline=False,
    showline=True, linecolor="black", linewidth=2, mirror=True,
    tickfont=dict(size=18, family=FONT),
    minor=dict(tickvals=day_grid_bars, showgrid=True, gridcolor="black",
               gridwidth=1.5, griddash="7px,5px", ticks=""),
)
fig.update_yaxes(
    range=[132.900, 138.023], side="right", tickvals=price_ticks,
    ticktext=[f"{v:.3f}" for v in price_ticks],
    ticks="outside", ticklen=7, tickwidth=1.5, tickcolor="black",
    showgrid=False, zeroline=False,
    showline=True, linecolor="black", linewidth=2, mirror=True,
    tickfont=dict(size=18, family=FONT),
)

# price tags on the axis
for val, bg in ((resistance_level, LGREEN), (last_price, "black")):
    fig.add_annotation(x=1, xref="paper", y=val, yref="y", xanchor="left",
                       xshift=5, text=f"{val:.3f}", showarrow=False,
                       bgcolor=bg, borderpad=1,
                       font=dict(color="white", size=18, family=FONT))

fig.add_annotation(x=0, xref="paper", y=1, yref="paper", xanchor="left",
                   yanchor="top", xshift=8, yshift=-8, showarrow=False,
                   text="<span style='font-size:15px'>\u25bc</span> USDJPY.raw,H1",
                   font=dict(size=18, family=FONT, color="black"))

# window frame
fig.add_shape(type="rect", xref="paper", yref="paper",
              x0=-8 / 2777, x1=2872 / 2777, y0=-38 / 1243, y1=1 + 7 / 1243,
              line=dict(color="#5A5A5A", width=5), fillcolor="rgba(0,0,0,0)")

fig.write_html("out.html", config={"displayModeBar": False},
               post_script="document.body.style.margin='0';")
